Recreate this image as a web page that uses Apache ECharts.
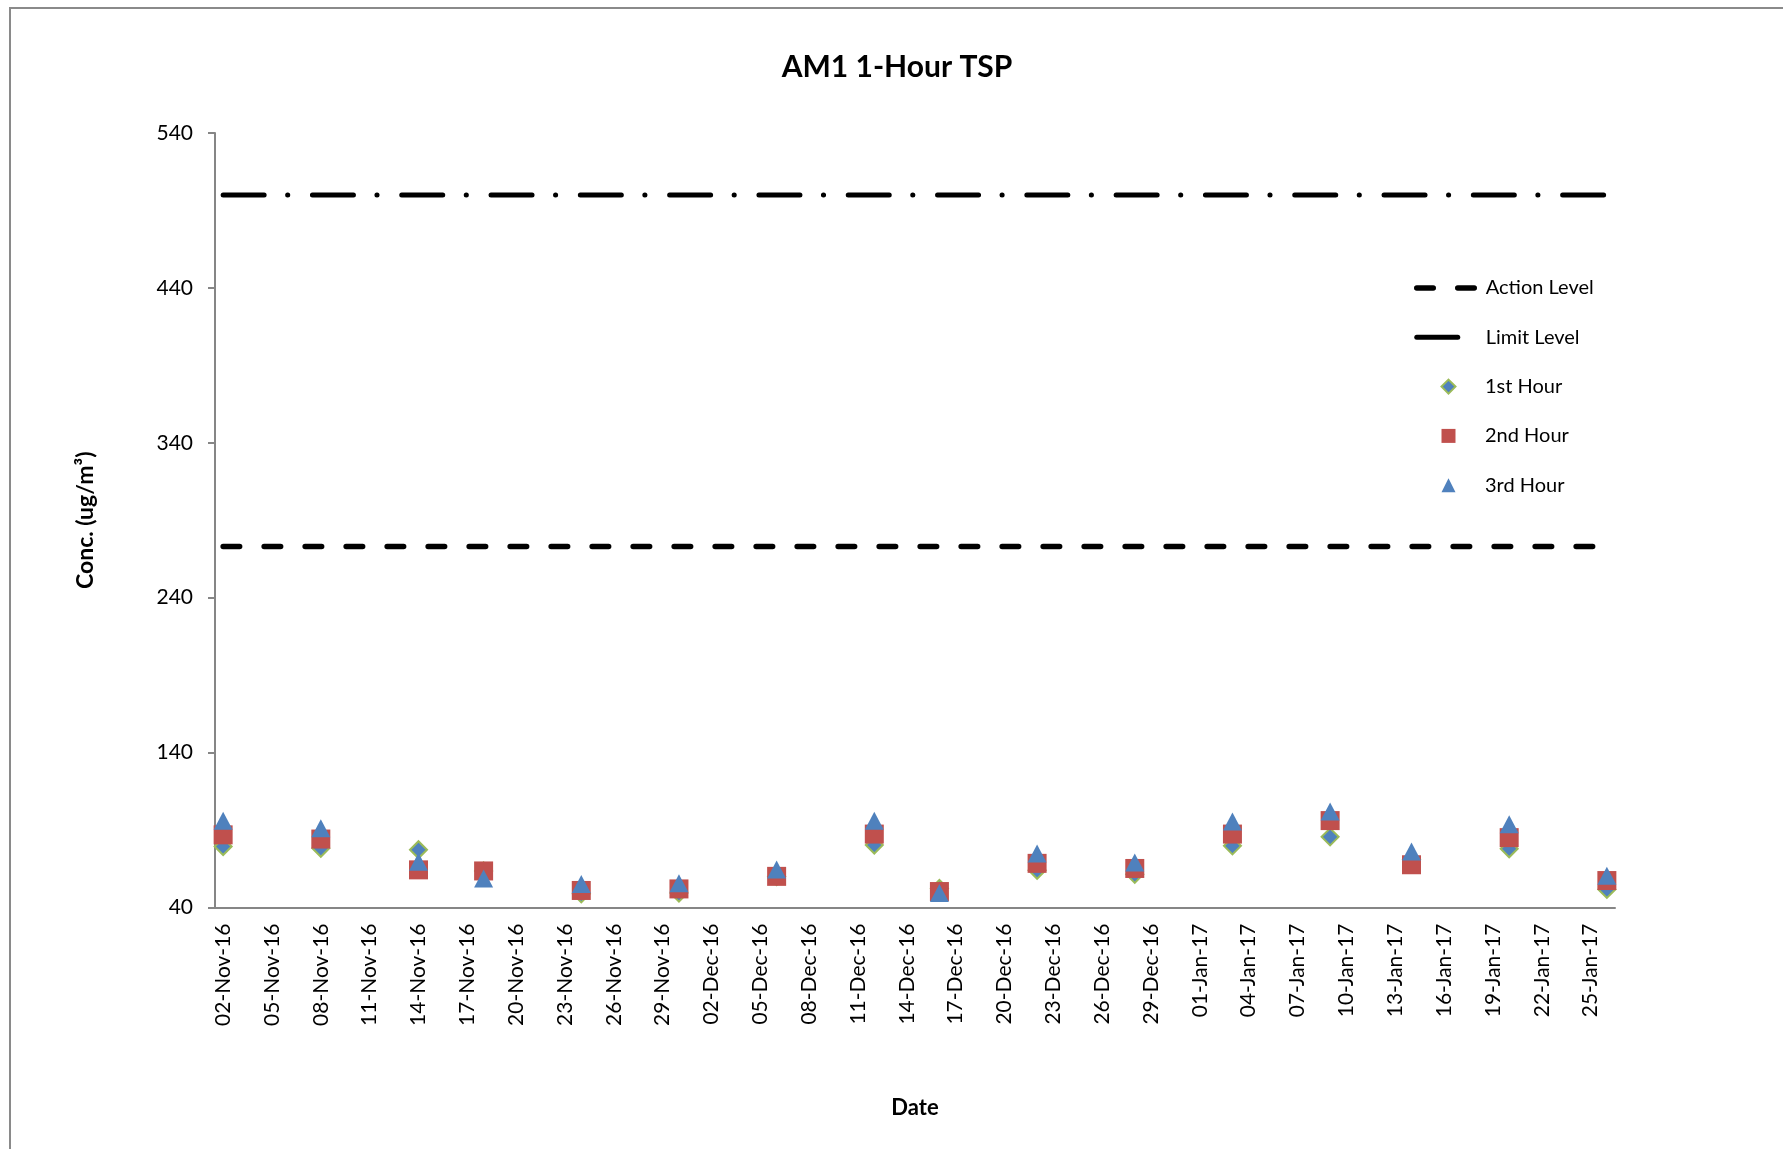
<!DOCTYPE html>
<html>
<head>
<meta charset="utf-8">
<script src="https://cdn.jsdelivr.net/npm/echarts@6.0.0/dist/echarts.min.js"></script>
<style>
html,body{margin:0;padding:0;background:#fff;}
#chart{width:1783px;height:1149px;}
</style>
</head>
<body>
<div id="chart"></div>
<script>
// ---- data ----
const sampleDates = ['02-Nov-16','08-Nov-16','14-Nov-16','18-Nov-16','24-Nov-16','30-Nov-16',
  '06-Dec-16','12-Dec-16','16-Dec-16','22-Dec-16','28-Dec-16',
  '03-Jan-17','09-Jan-17','14-Jan-17','20-Jan-17','26-Jan-17'];
const hour1 = [79.4, 78.2, 77.3, 63.6, 48.8, 49.3, 60.0, 80.3, 52.3, 64.0, 61.4, 79.8, 85.6, 71.0, 77.9, 51.7];
const hour2 = [86.9, 84.2, 64.3, 63.6, 51.0, 52.0, 60.1, 87.4, 50.3, 68.5, 65.2, 87.4, 96.1, 67.6, 85.1, 57.4];
const hour3 = [96.0, 91.1, 69.5, 58.8, 55.1, 55.7, 64.6, 96.0, 49.3, 74.9, 69.1, 95.6, 102.0, 76.2, 93.8, 60.5];
const actionLevel = 273;
const limitLevel = 500;
const yMin = 40, yMax = 540, yStep = 100;
const axisFirstDay = [2016, 10, 2];   // 02-Nov-16
const axisLastDay = [2017, 0, 26];    // 26-Jan-17
const seriesNames = ['Action Level', 'Limit Level', '1st Hour', '2nd Hour', '3rd Hour'];

// ---- category axis: one slot per day ----
const MONTHS = ['Jan','Feb','Mar','Apr','May','Jun','Jul','Aug','Sep','Oct','Nov','Dec'];
function fmt(d) {
  return String(d.getUTCDate()).padStart(2, '0') + '-' + MONTHS[d.getUTCMonth()] + '-' +
    String(d.getUTCFullYear() % 100).padStart(2, '0');
}
const categories = [];
for (let t = Date.UTC(...axisFirstDay); t <= Date.UTC(...axisLastDay); t += 86400000) {
  categories.push(fmt(new Date(t)));
}

const FONT = 'Lato';
const AXIS_GREY = '#868686';
const BLUE = '#4F81BD', RED = '#C0504D', GREEN = '#9BBB59';

const pairs = arr => sampleDates.map((d, i) => [d, arr[i]]);
const levelLine = v => [[sampleDates[0], v], [sampleDates[sampleDates.length - 1], v]];

const legendText = {fontFamily: FONT, fontSize: 20, color: '#000', lineHeight: 20};
const LEG_TOP = 273, LEG_STEP = 49.3;

const chart = echarts.init(document.getElementById('chart'), null, {renderer: 'canvas'});
chart.setOption({
  animation: false,
  backgroundColor: '#ffffff',
  textStyle: {fontFamily: FONT},
  graphic: [{
    type: 'rect', silent: true, z: -10,
    shape: {x: 10, y: 8, width: 1800, height: 1200},
    style: {fill: 'none', stroke: '#8a8a8a', lineWidth: 2}
  }],
  title: {
    text: 'AM1 1-Hour TSP',
    left: 892, top: 47, textAlign: 'center',
    textStyle: {fontFamily: FONT, fontSize: 30, fontWeight: 'bold', color: '#000'}
  },
  grid: {left: 215, right: 168, top: 133, bottom: 241.5, containLabel: false},
  xAxis: {
    type: 'category',
    data: categories,
    boundaryGap: true,
    axisLine: {lineStyle: {color: AXIS_GREY, width: 2}},
    axisTick: {show: false},
    splitLine: {show: false},
    axisLabel: {interval: 2, rotate: 90, margin: 16, fontSize: 21, color: '#000', fontFamily: FONT},
    name: 'Date', nameLocation: 'middle', nameGap: 189,
    nameTextStyle: {fontFamily: FONT, fontSize: 22, fontWeight: 'bold', color: '#000'}
  },
  yAxis: {
    type: 'value',
    min: yMin, max: yMax, interval: yStep,
    axisLine: {show: true, lineStyle: {color: AXIS_GREY, width: 2}},
    axisTick: {show: true, length: 7, lineStyle: {color: AXIS_GREY, width: 2}},
    splitLine: {show: false},
    axisLabel: {margin: 22, fontSize: 21, color: '#000', fontFamily: FONT},
    name: 'Conc. (ug/m³)', nameLocation: 'middle', nameRotate: 90, nameGap: 118,
    nameTextStyle: {fontFamily: FONT, fontSize: 23, fontWeight: 'bold', color: '#000'}
  },
  legend: [
    {
      orient: 'vertical',
      left: 1409, top: LEG_TOP,
      itemWidth: 64, itemHeight: 14, itemGap: LEG_STEP - 20,
      textStyle: legendText,
      data: [
        {name: seriesNames[0], itemStyle: {opacity: 0}, lineStyle: {width: 5.5}},
        {name: seriesNames[1], itemStyle: {opacity: 0}, lineStyle: {width: 5}}
      ]
    },
    {
      orient: 'vertical',
      left: 1435.5, top: LEG_TOP + 2 * LEG_STEP,
      itemWidth: 14, itemHeight: 14, itemGap: LEG_STEP - 20,
      textStyle: Object.assign({}, legendText, {padding: [0, 0, 0, 24.5]}),
      data: [
        {name: seriesNames[2], itemStyle: {color: BLUE, borderColor: GREEN, borderWidth: 2}},
        {name: seriesNames[3], itemStyle: {color: RED, borderWidth: 0}},
        {name: seriesNames[4], itemStyle: {color: BLUE, borderWidth: 0}}
      ]
    }
  ],
  series: [
    {
      name: seriesNames[0], type: 'line', data: levelLine(actionLevel),
      symbol: 'none', silent: true,
      lineStyle: {color: '#000', width: 5.5, type: [16.5, 24.5], cap: 'round'}
    },
    {
      name: seriesNames[1], type: 'line', data: levelLine(limitLevel),
      symbol: 'none', silent: true,
      lineStyle: {color: '#000', width: 5, type: [41, 23.5, 0.1, 24.7], cap: 'round'}
    },
    {
      name: seriesNames[2], type: 'scatter', data: pairs(hour1),
      symbol: 'diamond', symbolSize: [17, 17],
      itemStyle: {color: BLUE, borderColor: GREEN, borderWidth: 2, opacity: 1}
    },
    {
      name: seriesNames[3], type: 'scatter', data: pairs(hour2),
      symbol: 'rect', symbolSize: [19, 19],
      itemStyle: {color: RED, opacity: 1}
    },
    {
      name: seriesNames[4], type: 'scatter', data: pairs(hour3),
      symbol: 'triangle', symbolSize: [19, 18],
      itemStyle: {color: BLUE, opacity: 1}
    }
  ]
});
</script>
</body>
</html>
